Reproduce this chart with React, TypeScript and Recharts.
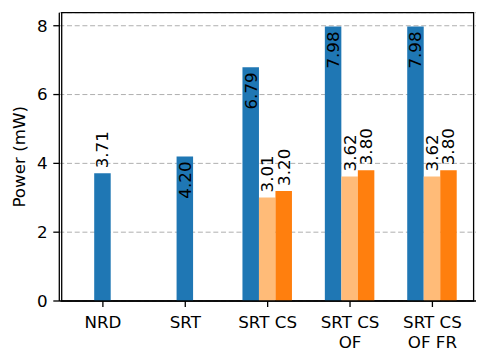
import { BarChart, Bar, XAxis, YAxis, CartesianGrid, LabelList, Cell, ReferenceArea } from 'recharts';

const categories = ['NRD', 'SRT', 'SRT CS', 'SRT CS\nOF', 'SRT CS\nOF FR'];
const basePower = [3.71, 4.2, 6.79, 7.98, 7.98];
const lowPower: (number | null)[] = [null, null, 3.01, 3.62, 3.62];
const optPower: (number | null)[] = [null, null, 3.2, 3.8, 3.8];
const yTicks = [0, 2, 4, 6, 8];
const Y_MAX = 8.379;

const BLUE = '#1f77b4';
const LIGHT = '#ffbb78';
const ORANGE = '#ff7f0e';
const FONT = 16.7;

// groups with only one bar keep it centred on the tick, like the original plot
const data = categories.map((name, i) => {
  const grouped = lowPower[i] != null;
  return {
    name,
    left: grouped ? basePower[i] : null,
    mid: grouped ? lowPower[i] : basePower[i],
    midColor: grouped ? LIGHT : BLUE,
    right: optPower[i],
  };
});

function renderValue(props: any) {
  const { x, y, width, value } = props;
  if (value == null) return null;
  const v = Number(value);
  const cx = Number(x) + Number(width) / 2;
  const inside = v > 4;
  const ty = inside ? Number(y) + 5 : Number(y) - 5;
  return (
    <text
      x={cx}
      y={ty}
      transform={`rotate(-90 ${cx} ${ty})`}
      textAnchor={inside ? 'end' : 'start'}
      dominantBaseline="central"
      fontSize={FONT}
      fill="#000"
    >
      {v.toFixed(2)}
    </text>
  );
}

function CategoryTick({ x, y, payload }: any) {
  const lines = String(payload.value).split('\n');
  return (
    <text x={x} y={y + 15} textAnchor="middle" fontSize={FONT} fill="#000">
      {lines.map((line, i) => (
        <tspan key={i} x={x} dy={i === 0 ? 0 : 20}>
          {line}
        </tspan>
      ))}
    </text>
  );
}

function yTitle(props: any) {
  const vb = props.viewBox || {};
  const cx = 25;
  const cy = vb.y + vb.height / 2;
  return (
    <text x={cx} y={cy} transform={`rotate(-90 ${cx} ${cy})`} textAnchor="middle" fontSize={FONT} fill="#000">
      Power (mW)
    </text>
  );
}

export default function App() {
  return (
    <div style={{ position: 'absolute', left: 0, top: 0, background: '#fff', fontFamily: '"DejaVu Sans", sans-serif' }}>
      <BarChart
        width={489}
        height={363}
        data={data}
        margin={{ top: 12.7, right: 13, left: 0, bottom: 0 }}
        barSize={16.5}
        barGap={0}
      >
        <CartesianGrid vertical={false} stroke="#b0b0b0" strokeDasharray="5 2.7" />
        <XAxis
          dataKey="name"
          height={62}
          padding={{ left: 2.4, right: 2.4 }}
          interval={0}
          tick={<CategoryTick />}
          tickSize={6}
          tickMargin={6}
          tickLine={{ stroke: '#000', strokeWidth: 1.3 }}
          axisLine={{ stroke: '#000', strokeWidth: 1.3 }}
        />
        <YAxis
          width={59.3}
          domain={[0, Y_MAX]}
          ticks={yTicks}
          tickSize={6}
          tickMargin={5.6}
          tick={{ fill: '#000', fontSize: FONT }}
          tickLine={{ stroke: '#000', strokeWidth: 1.3 }}
          axisLine={{ stroke: '#000', strokeWidth: 1.3 }}
          label={yTitle}
        />
        <Bar dataKey="left" fill={BLUE} isAnimationActive={false}>
          <LabelList dataKey="left" content={renderValue} />
        </Bar>
        <Bar dataKey="mid" fill={LIGHT} isAnimationActive={false}>
          {data.map((d, i) => (
            <Cell key={i} fill={d.midColor} />
          ))}
          <LabelList dataKey="mid" content={renderValue} />
        </Bar>
        <Bar dataKey="right" fill={ORANGE} isAnimationActive={false}>
          <LabelList dataKey="right" content={renderValue} />
        </Bar>
        {/* axes frame */}
        <ReferenceArea y1={0} y2={Y_MAX} fill="none" fillOpacity={0} stroke="#000" strokeWidth={1.3} />
      </BarChart>
    </div>
  );
}
